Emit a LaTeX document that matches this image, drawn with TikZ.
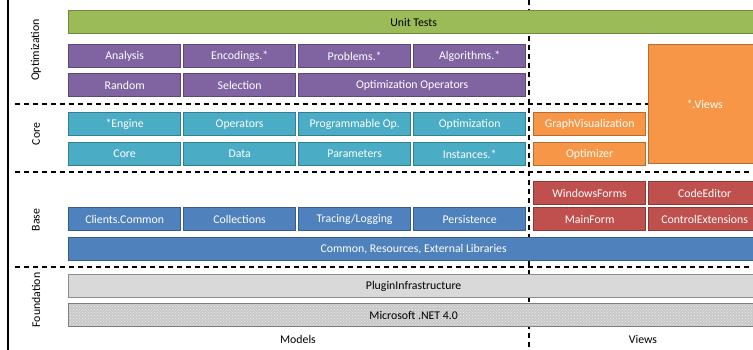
\documentclass[tikz,border=0pt]{standalone}
\usepackage{fontspec}
\setmainfont{Carlito}
\usetikzlibrary{patterns}
\definecolor{gfill}{HTML}{9BBB59}\definecolor{gline}{HTML}{71893F}
\definecolor{pfill}{HTML}{8064A2}\definecolor{pline}{HTML}{5C4776}
\definecolor{tfill}{HTML}{4BACC6}\definecolor{tline}{HTML}{357D91}
\definecolor{bfill}{HTML}{4F81BD}\definecolor{bline}{HTML}{385D8A}
\definecolor{rfill}{HTML}{C0504D}\definecolor{rline}{HTML}{8C3836}
\definecolor{ofill}{HTML}{F79646}\definecolor{oline}{HTML}{B66D31}
\definecolor{lgfill}{HTML}{D9D9D9}\definecolor{lgline}{HTML}{8C8C8C}
\definecolor{netfill}{HTML}{C8C8C8}\definecolor{netline}{HTML}{7F7F7F}
\begin{document}
\begin{tikzpicture}[x=1pt,y=-1pt,
  box/.style={draw, line width=1.3pt, anchor=north west, minimum height=23pt,
    minimum width=112pt, inner sep=0pt, text=white,
    font=\fontsize{11.8}{13}\selectfont},
  gbox/.style={box, fill=gfill, draw=gline, text=black},
  pbox/.style={box, fill=pfill, draw=pline},
  tbox/.style={box, fill=tfill, draw=tline},
  bbox/.style={box, fill=bfill, draw=bline},
  rbox/.style={box, fill=rfill, draw=rline},
  obox/.style={box, fill=ofill, draw=oline},
  lbox/.style={box, fill=lgfill, draw=lgline, text=black},
  sep/.style={line width=1.6pt, dash pattern=on 5pt off 4pt},
  layer/.style={rotate=90, font=\fontsize{11.8}{13}\selectfont},
  axis/.style={font=\fontsize{11.8}{13}\selectfont}]
\useasboundingbox (0,0) rectangle (753,350);
\clip (0,0) rectangle (753,350);
% separators
\draw[line width=2pt] (8,0) -- (8,350);
\draw[sep] (529,0) -- (529,350);
\draw[sep] (15,104) -- (648,104);
\draw[sep] (15,172) -- (753,172);
\draw[sep] (15,267) -- (753,267);
% layer labels
\node[layer] (lopt) at (36,50) {Optimization};
\node[layer] (lcore) at (36,134) {Core};
\node[layer] (lbase) at (36,220) {Base};
\node[layer] (lfound) at (36,300) {Foundation};
% Unit tests
\node[gbox, minimum width=690pt] (ut) at (68,10) {Unit Tests};
% Optimization
\node[pbox] (analysis) at (68,44) {Analysis};
\node[pbox] (enc) at (183,44) {Encodings.*};
\node[pbox] (prob) at (298,44) {Problems.*};
\node[pbox] (alg) at (413,44) {Algorithms.*};
\node[pbox] (rand) at (68,73) {Random};
\node[pbox] (sel) at (183,73) {Selection};
\node[pbox, minimum width=227pt] (optop) at (298,73) {Optimization Operators};
% Views
\node[obox, minimum width=112pt, minimum height=119pt] (views) at (648,44) {*.Views};
% Core
\node[tbox] (engine) at (68,112) {*Engine};
\node[tbox] (ops) at (183,112) {Operators};
\node[tbox] (prog) at (298,112) {Programmable Op.};
\node[tbox] (optim) at (413,112) {Optimization};
\node[tbox] (core) at (68,142) {Core};
\node[tbox] (data) at (183,142) {Data};
\node[tbox] (params) at (298,142) {Parameters};
\node[tbox] (inst) at (413,142) {Instances.*};
\node[obox] (graph) at (533,112) {GraphVisualization};
\node[obox] (optimizer) at (533,142) {Optimizer};
% Base
\node[rbox] (winforms) at (533,181) {WindowsForms};
\node[rbox] (codeed) at (648,181) {CodeEditor};
\node[rbox] (mainform) at (533,207) {MainForm};
\node[rbox] (ctrlext) at (648,207) {ControlExtensions};
\node[bbox] (clients) at (68,207) {Clients.Common};
\node[bbox] (coll) at (183,207) {Collections};
\node[bbox] (trace) at (298,207) {Tracing/Logging};
\node[bbox] (persist) at (413,207) {Persistence};
\node[bbox, minimum width=690pt] (common) at (68,237) {Common, Resources, External Libraries};
% Foundation
\node[lbox, minimum width=690pt] (plugin) at (68,274) {PluginInfrastructure};
\fill[netfill] (68,303) rectangle (758,326);
\fill[pattern=crosshatch dots, pattern color=white!70!netfill] (68,303) rectangle (758,326);
\node[box, draw=netline, text=black, minimum width=690pt] (net) at (68,303) {Microsoft .NET 4.0};
% axis labels
\node[axis] (models) at (298,339) {Models};
\node[axis] (viewsl) at (643,339) {Views};
\end{tikzpicture}
\end{document}
